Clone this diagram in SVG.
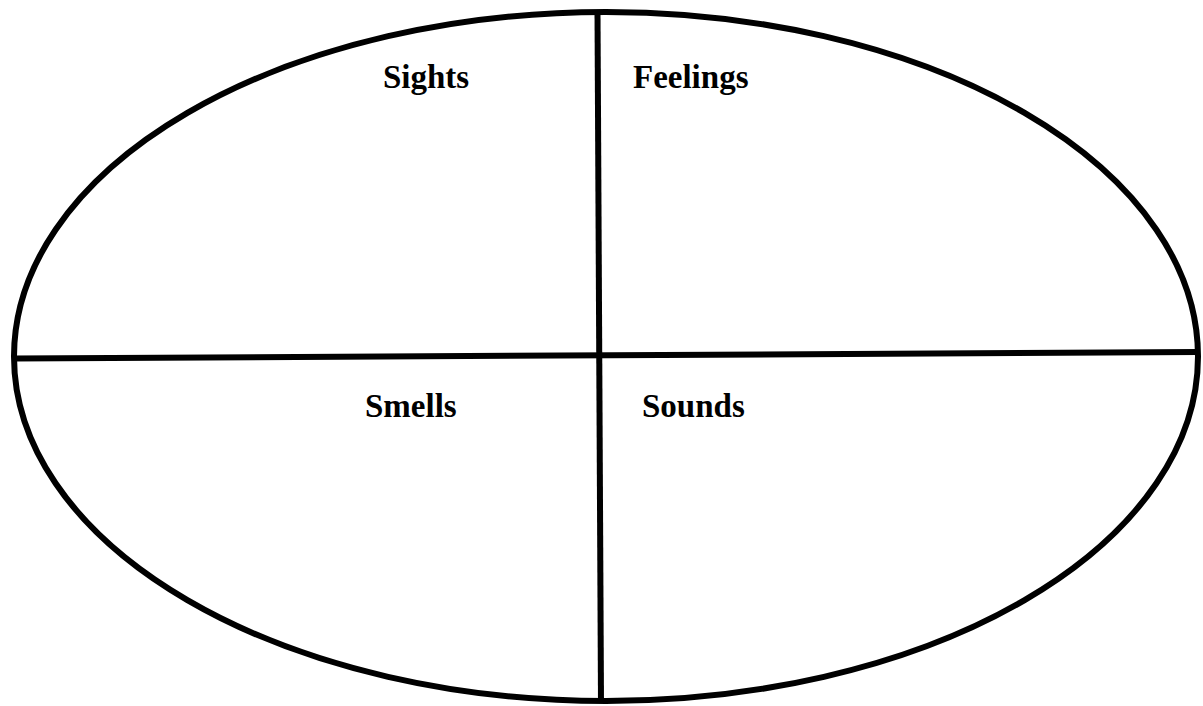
<svg xmlns="http://www.w3.org/2000/svg" width="1203" height="706" viewBox="0 0 1203 706">
<style>
.ln{stroke:#000;stroke-width:6;fill:none}
.lb{font-family:"Liberation Serif","Times New Roman",serif;font-weight:bold;font-size:33px;fill:#000}
</style>
<rect width="1203" height="706" fill="#fff"/>
<g id="outline"><ellipse class="ln" cx="606" cy="356.5" rx="592" ry="344.5"/></g>
<g id="connectors">
<line class="ln" x1="597.5" y1="12" x2="601" y2="701"/>
<line class="ln" x1="14" y1="358.5" x2="1198" y2="352"/>
</g>
<g id="sights"><text class="lb" x="383" y="88">Sights</text></g>
<g id="feelings"><text class="lb" x="633" y="88">Feelings</text></g>
<g id="smells"><text class="lb" x="365" y="417">Smells</text></g>
<g id="sounds"><text class="lb" x="642" y="417">Sounds</text></g>
</svg>
